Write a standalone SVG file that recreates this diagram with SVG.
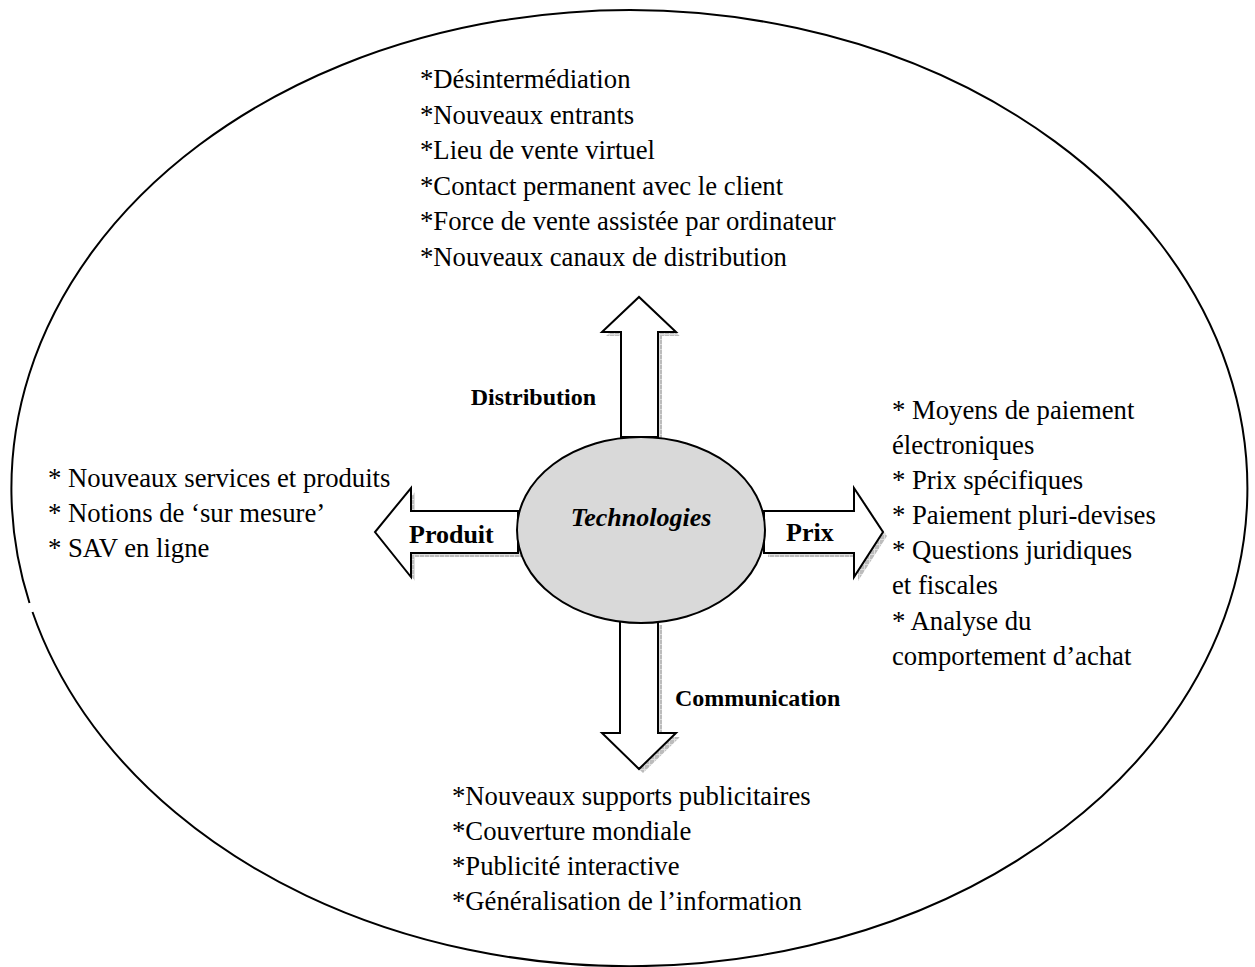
<svg xmlns="http://www.w3.org/2000/svg" width="1255" height="967" viewBox="0 0 1255 967">
  <defs>
    <!-- hatched grey used for the block-arrow drop shadows -->
    <pattern id="hatch" width="5" height="5" patternUnits="userSpaceOnUse">
      <rect width="5" height="5" fill="#bcbcbc"/>
      <path d="M0 0.5H5M0.5 0V5" stroke="#dedede" stroke-width="1"/>
    </pattern>
    <path id="arrowUp" d="M621,437 L621,332 L602,332 L639,297 L676,332 L658,332 L658,437 Z"/>
    <path id="arrowDown" d="M620,621 L620,733 L602,733 L639,769 L676,733 L658,733 L658,621 Z"/>
    <path id="arrowLeft" d="M518,511 L411,511 L411,488 L375,532 L411,577 L411,553 L518,553 Z"/>
    <path id="arrowRight" d="M764,511 L854,511 L854,488 L883,532 L854,577 L854,553 L764,553 Z"/>
  </defs>
  <style>
    .outline { fill: none; stroke: #000; stroke-width: 2; }
    .arrow { fill: #fff; stroke: #000; stroke-width: 2; stroke-linejoin: miter; }
    .shadow { fill: url(#hatch); }
    .list { font-family: "Liberation Serif", "Times New Roman", serif; font-size: 26.7px; fill: #000; }
    .lbl { font-family: "Liberation Serif", "Times New Roman", serif; font-weight: bold; font-size: 24px; fill: #000; }
    .big { font-family: "Liberation Serif", "Times New Roman", serif; font-weight: bold; font-size: 26px; fill: #000; }
  </style>

  <rect width="1255" height="967" fill="#fff"/>

  <!-- outer boundary: large ellipse with a small break on the left side -->
  <g id="boundary">
    <path class="outline" d="M29.5,603 A618,478 0 1 1 32.5,612"/>
  </g>

  <!-- block arrows radiating from the centre -->
  <g id="connectors">
    <use href="#arrowUp" class="shadow" transform="translate(4,4)"/>
    <use href="#arrowDown" class="shadow" transform="translate(4,4)"/>
    <use href="#arrowLeft" class="shadow" transform="translate(4,4)"/>
    <use href="#arrowRight" class="shadow" transform="translate(4,4)"/>
    <use href="#arrowUp" class="arrow"/>
    <use href="#arrowDown" class="arrow"/>
    <use href="#arrowLeft" class="arrow"/>
    <use href="#arrowRight" class="arrow"/>
    <text class="big" x="409" y="543">Produit</text>
    <text class="big" x="786" y="541">Prix</text>
    <text class="lbl" x="596" y="405" text-anchor="end" font-size="25">Distribution</text>
    <text class="lbl" x="675" y="706">Communication</text>
  </g>

  <!-- central node -->
  <g id="technologies">
    <ellipse cx="641" cy="530" rx="124" ry="93" fill="#d9d9d9" stroke="#000" stroke-width="2"/>
    <text x="641" y="526" text-anchor="middle" font-family="'Liberation Serif', 'Times New Roman', serif" font-weight="bold" font-style="italic" font-size="26" fill="#000">Technologies</text>
  </g>

  <!-- Distribution items -->
  <g id="distribution-items" class="list">
    <text x="420" y="88">*Désintermédiation</text>
    <text x="420" y="123.5">*Nouveaux entrants</text>
    <text x="420" y="159">*Lieu de vente virtuel</text>
    <text x="420" y="194.5">*Contact permanent avec le client</text>
    <text x="420" y="230">*Force de vente assistée par ordinateur</text>
    <text x="420" y="265.5">*Nouveaux canaux de distribution</text>
  </g>

  <!-- Produit items -->
  <g id="produit-items" class="list">
    <text x="48" y="487">* Nouveaux services et produits</text>
    <text x="48" y="522">* Notions de ‘sur mesure’</text>
    <text x="48" y="557">* SAV en ligne</text>
  </g>

  <!-- Prix items -->
  <g id="prix-items" class="list">
    <text x="892" y="419">* Moyens de paiement</text>
    <text x="892" y="454">électroniques</text>
    <text x="892" y="489">* Prix spécifiques</text>
    <text x="892" y="524">* Paiement pluri-devises</text>
    <text x="892" y="559">* Questions juridiques</text>
    <text x="892" y="594">et fiscales</text>
    <text x="892" y="630">* Analyse du</text>
    <text x="892" y="665">comportement d’achat</text>
  </g>

  <!-- Communication items -->
  <g id="communication-items" class="list">
    <text x="452" y="805">*Nouveaux supports publicitaires</text>
    <text x="452" y="840">*Couverture mondiale</text>
    <text x="452" y="875">*Publicité interactive</text>
    <text x="452" y="910">*Généralisation de l’information</text>
  </g>
</svg>
